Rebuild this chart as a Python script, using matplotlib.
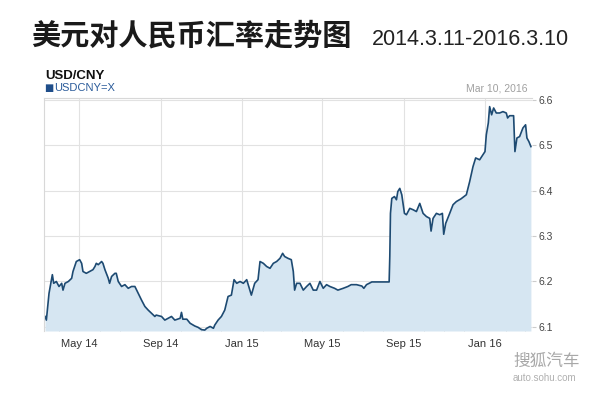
# -*- coding: utf-8 -*-
# USD/CNY exchange rate chart, 2014.3.11 - 2016.3.10
import pandas as pd
import matplotlib
matplotlib.use("agg")
import matplotlib.pyplot as plt
import matplotlib.dates as mdates

plt.rcParams['font.family'] = ['Liberation Sans', 'DejaVu Sans']

## values
dates = ["2014-03-11", "2014-03-13", "2014-03-17", "2014-03-22", "2014-03-24", "2014-03-28",
         "2014-04-01", "2014-04-05", "2014-04-07", "2014-04-10", "2014-04-15", "2014-04-20",
         "2014-04-22", "2014-04-27", "2014-05-02", "2014-05-05", "2014-05-07", "2014-05-12",
         "2014-05-17", "2014-05-22", "2014-05-25", "2014-05-27", "2014-05-30", "2014-06-04",
         "2014-06-06", "2014-06-09", "2014-06-14", "2014-06-16", "2014-06-19", "2014-06-24",
         "2014-06-26", "2014-06-29", "2014-07-04", "2014-07-09", "2014-07-14", "2014-07-19",
         "2014-07-24", "2014-07-29", "2014-08-03", "2014-08-08", "2014-08-13", "2014-08-18",
         "2014-08-23", "2014-08-25", "2014-09-02", "2014-09-07", "2014-09-12", "2014-09-17",
         "2014-09-22", "2014-09-30", "2014-10-02", "2014-10-04", "2014-10-10", "2014-10-15",
         "2014-10-22", "2014-10-27", "2014-11-01", "2014-11-06", "2014-11-09", "2014-11-14",
         "2014-11-19", "2014-11-21", "2014-11-26", "2014-12-01", "2014-12-06", "2014-12-11",
         "2014-12-16", "2014-12-20", "2014-12-24", "2014-12-29", "2015-01-03", "2015-01-08",
         "2015-01-15", "2015-01-20", "2015-01-25", "2015-01-28", "2015-02-02", "2015-02-07",
         "2015-02-12", "2015-02-17", "2015-02-22", "2015-02-27", "2015-03-03", "2015-03-06",
         "2015-03-11", "2015-03-16", "2015-03-19", "2015-03-21", "2015-03-24", "2015-03-29",
         "2015-04-03", "2015-04-08", "2015-04-13", "2015-04-18", "2015-04-23", "2015-04-28",
         "2015-05-03", "2015-05-08", "2015-05-13", "2015-05-20", "2015-05-25", "2015-06-02",
         "2015-06-09", "2015-06-14", "2015-06-22", "2015-06-30", "2015-07-03", "2015-07-07",
         "2015-07-15", "2015-08-10", "2015-08-11", "2015-08-12", "2015-08-14", "2015-08-18",
         "2015-08-21", "2015-08-23", "2015-08-26", "2015-08-29", "2015-09-02", "2015-09-05",
         "2015-09-10", "2015-09-15", "2015-09-20", "2015-09-25", "2015-09-30", "2015-10-05",
         "2015-10-10", "2015-10-12", "2015-10-15", "2015-10-20", "2015-10-25", "2015-10-29",
         "2015-10-31", "2015-11-03", "2015-11-09", "2015-11-14", "2015-11-19", "2015-11-26",
         "2015-12-04", "2015-12-09", "2015-12-14", "2015-12-18", "2015-12-24", "2015-12-29",
         "2016-01-01", "2016-01-03", "2016-01-06", "2016-01-08", "2016-01-11", "2016-01-14",
         "2016-01-18", "2016-01-23", "2016-01-28", "2016-02-02", "2016-02-04", "2016-02-07",
         "2016-02-13", "2016-02-15", "2016-02-18", "2016-02-22", "2016-02-27", "2016-03-02",
         "2016-03-04", "2016-03-07", "2016-03-10"]

usdcny = [6.123, 6.115, 6.174, 6.215, 6.196, 6.200,
          6.189, 6.196, 6.181, 6.196, 6.200, 6.207,
          6.222, 6.244, 6.248, 6.240, 6.222, 6.218,
          6.222, 6.226, 6.233, 6.240, 6.237, 6.244,
          6.240, 6.226, 6.207, 6.196, 6.211, 6.218,
          6.218, 6.200, 6.189, 6.193, 6.185, 6.189,
          6.189, 6.174, 6.159, 6.145, 6.137, 6.130,
          6.123, 6.126, 6.123, 6.115, 6.119, 6.123,
          6.115, 6.119, 6.132, 6.117, 6.117, 6.108,
          6.102, 6.099, 6.094, 6.093, 6.097, 6.101,
          6.097, 6.104, 6.115, 6.123, 6.137, 6.167,
          6.170, 6.204, 6.196, 6.200, 6.196, 6.204,
          6.170, 6.196, 6.204, 6.244, 6.240, 6.233,
          6.229, 6.240, 6.244, 6.251, 6.262, 6.255,
          6.251, 6.248, 6.222, 6.181, 6.196, 6.196,
          6.181, 6.189, 6.196, 6.181, 6.181, 6.200,
          6.185, 6.193, 6.189, 6.185, 6.181, 6.185,
          6.189, 6.193, 6.193, 6.190, 6.185, 6.193,
          6.199, 6.199, 6.255, 6.350, 6.383, 6.387,
          6.380, 6.398, 6.405, 6.391, 6.350, 6.347,
          6.361, 6.358, 6.354, 6.372, 6.350, 6.343,
          6.339, 6.311, 6.339, 6.350, 6.347, 6.350,
          6.304, 6.328, 6.350, 6.369, 6.376, 6.382,
          6.391, 6.420, 6.453, 6.472, 6.468, 6.479,
          6.486, 6.523, 6.549, 6.585, 6.567, 6.582,
          6.571, 6.571, 6.574, 6.571, 6.560, 6.565,
          6.565, 6.486, 6.516, 6.519, 6.538, 6.545,
          6.516, 6.508, 6.497]

yticks = [6.1, 6.2, 6.3, 6.4, 6.5, 6.6]
ylow, yhigh = 6.091, 6.604
xstart, xend = "2014-03-09 10:00", "2016-03-11 14:00"

x = pd.to_datetime(dates)

fig = plt.figure(figsize=(6, 4), dpi=100)
ax = fig.add_axes([0.0733, 0.1725, 0.8133, 0.5825])

ax.fill_between(x, usdcny, ylow, color="#d6e6f2", lw=0)
ax.plot(x, usdcny, color="#1d4a72", lw=1.2)

ax.set_xlim(pd.Timestamp(xstart), pd.Timestamp(xend))
ax.set_ylim(ylow, yhigh)

ax.xaxis.set_major_locator(mdates.MonthLocator(bymonth=[1, 5, 9]))
ax.xaxis.set_major_formatter(mdates.DateFormatter("%b %y"))
ax.xaxis.set_minor_locator(mdates.MonthLocator())
ax.set_yticks(yticks)
ax.set_yticklabels(["%.1f" % v for v in yticks])
ax.yaxis.tick_right()

ax.grid(True, which="major", color="#e2e2e2", lw=0.8)
ax.set_axisbelow(True)
ax.tick_params(axis="x", which="major", length=0, pad=6, labelsize=8, labelcolor="#333333")
ax.tick_params(axis="x", which="minor", direction="in", length=3, color="#cccccc")
ax.tick_params(axis="y", length=3, color="#cccccc", pad=2, labelsize=7.5, labelcolor="#444444")

for s in ["right", "bottom"]:
    ax.spines[s].set_visible(False)
for s in ["top", "left"]:
    ax.spines[s].set_color("#d8d8d8")
    ax.spines[s].set_linewidth(0.8)

## header texts
fig.text(0.052, 0.912, "美元对人民币汇率走势图", fontsize=21, fontweight="bold",
         family=["Noto Sans CJK SC", "DejaVu Sans"], color="#1a1a1a", va="center")
fig.text(0.619, 0.902, "2014.3.11-2016.3.10", fontsize=15.5, color="#222222", va="center")
fig.text(0.075, 0.81, "USD/CNY", fontsize=9.5, fontweight="bold", color="#111111", va="center")
fig.text(0.073, 0.779, "\u25a0", fontsize=7, color="#1f4e8a", va="center",
         family=["DejaVu Sans"])
fig.text(0.090, 0.779, "USDCNY=X", fontsize=8, color="#2a5b9a", va="center")
fig.text(0.880, 0.778, "Mar 10, 2016", fontsize=7.5, color="#a0a0a0", va="center", ha="right")

## watermark
fig.text(0.855, 0.097, "搜狐汽车", fontsize=12, color="#a8a8a8", va="center",
         family=["Noto Sans CJK SC", "DejaVu Sans"])
fig.text(0.855, 0.054, "auto.sohu.com", fontsize=7, color="#b0b0b0", va="center")

fig.savefig("out.png", dpi=100)
